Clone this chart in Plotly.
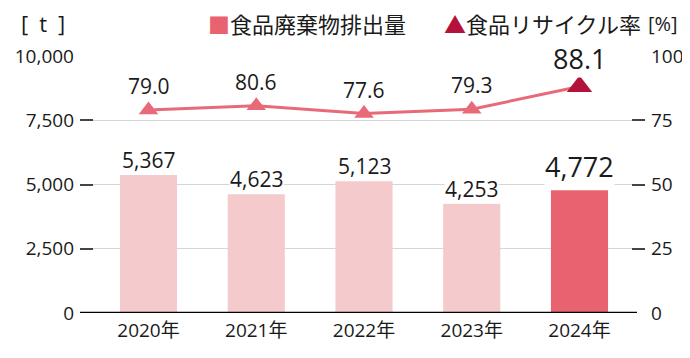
import plotly.graph_objects as go

years = ["2020年", "2021年", "2022年", "2023年", "2024年"]
waste_t = [5367, 4623, 5123, 4253, 4772]
waste_labels = ["5,367", "4,623", "5,123", "4,253", "4,772"]
recycle_pct = [79.0, 80.6, 77.6, 79.3, 88.1]
recycle_labels = ["79.0", "80.6", "77.6", "79.3", "88.1"]
left_ticks = [0, 2500, 5000, 7500, 10000]
left_ticktext = ["0", "2,500", "5,000", "7,500", "10,000"]
right_ticks = [0, 25, 50, 75, 100]
right_ticktext = ["0", "25", "50", "75", "100"]

FONT = "Open Sans, Noto Sans CJK JP, sans-serif"
JFONT = "Noto Sans CJK JP, Open Sans, sans-serif"
LIGHT = "#f4cacc"
DARK = "#e8636f"
LINE = "#e86a78"
TRI_DARK = "#b3123b"
TXT = "#1a1a1a"

bar_colors = [LIGHT] * (len(years) - 1) + [DARK]
mk_colors = [LINE] * (len(years) - 1) + [TRI_DARK]
mk_sizes = [17] * (len(years) - 1) + [22]

# body margin of the html page is 8px; build the figure in page coords minus 8
OFF = 8
W, H = 690 - OFF, 358 - OFF
PLOT_L, PLOT_R, PLOT_T, PLOT_B = 80 - OFF, 645 - OFF, 56 - OFF, 313 - OFF
L, R, T, B = PLOT_L, W - PLOT_R, PLOT_T, H - PLOT_B
PW = PLOT_R - PLOT_L
PH = PLOT_B - PLOT_T


def px(xpix):
    return (xpix - OFF - PLOT_L) / PW


def py(ypix):
    return (PLOT_B - (ypix - OFF)) / PH


unit = (579.5 - 148.5) / 4
x_lo = (80 - 148.5) / unit
x_hi = 4 + (645 - 579.5) / unit

fig = go.Figure()
fig.add_trace(go.Bar(
    x=years, y=waste_t, marker=dict(color=bar_colors, line=dict(width=0)),
    width=0.53, showlegend=False, hoverinfo="skip", yaxis="y"))
fig.add_trace(go.Scatter(
    x=years, y=recycle_pct, mode="lines+markers", yaxis="y2",
    line=dict(color=LINE, width=3),
    marker=dict(symbol="triangle-up", size=mk_sizes, color=mk_colors,
                opacity=1, line=dict(width=0)),
    showlegend=False, hoverinfo="skip", cliponaxis=False))

annotations = []
n = len(years)
for i, (x, v, t) in enumerate(zip(years, waste_t, waste_labels)):
    big = i == n - 1
    annotations.append(dict(
        x=x, y=v, xref="x", yref="y", text=t, showarrow=False,
        yanchor="bottom", yshift=4 if big else 0, bgcolor="white", borderpad=0,
        font=dict(family=FONT, size=27 if big else 21, color=TXT)))
for i, (x, v, t) in enumerate(zip(years, recycle_pct, recycle_labels)):
    big = i == n - 1
    annotations.append(dict(
        x=x, y=v, xref="x", yref="y2", text=t, showarrow=False,
        yanchor="bottom", yshift=9 if big else 9, bgcolor="white", borderpad=0,
        font=dict(family=FONT, size=27 if big else 21, color=TXT)))

annotations += [
    dict(x=px(19), y=py(23), xref="paper", yref="paper", xanchor="left", yanchor="middle",
         text="[\u2002t\u2002]", showarrow=False, font=dict(family=FONT, size=22, color=TXT)),
    dict(x=px(646), y=py(23), xref="paper", yref="paper", xanchor="left", yanchor="middle",
         text="[%]", showarrow=False, font=dict(family=FONT, size=20, color=TXT)),
    dict(x=px(206), y=py(23), xref="paper", yref="paper", xanchor="left", yanchor="middle",
         text=f"<span style='color:{DARK}'>■</span>食品廃棄物排出量", showarrow=False,
         font=dict(family=JFONT, size=22, color=TXT)),
    dict(x=px(442), y=py(23), xref="paper", yref="paper", xanchor="left", yanchor="middle",
         text=f"<span style='color:{TRI_DARK}'>▲</span>食品リサイクル率", showarrow=False,
         font=dict(family=JFONT, size=22, color=TXT)),
]

fig.update_layout(
    template="none",
    width=W, height=H, margin=dict(l=L, r=R, t=T, b=B, autoexpand=False),
    paper_bgcolor="white", plot_bgcolor="white",
    annotations=annotations,
    xaxis=dict(type="category", range=[x_lo, x_hi], automargin=False,
               showgrid=False, zeroline=False, showline=False, ticks="",
               ticklabelstandoff=4,
               tickfont=dict(family=FONT, size=19, color=TXT), fixedrange=True),
    yaxis=dict(range=[0, 10000], tickvals=left_ticks, ticktext=left_ticktext,
               automargin=False,
               showgrid=True, gridcolor="#d6d6d6", gridwidth=1, zeroline=False,
               ticks="inside", ticklen=13, tickcolor="#444", tickwidth=1.5,
               ticklabelstandoff=5,
               tickfont=dict(family=FONT, size=19, color=TXT), showline=False),
    yaxis2=dict(range=[0, 100], tickvals=right_ticks, ticktext=right_ticktext,
                automargin=False,
                overlaying="y", side="right", showgrid=False, zeroline=False,
                ticks="inside", ticklen=13, tickcolor="#444", tickwidth=1.5,
                ticklabelstandoff=5,
                tickfont=dict(family=FONT, size=19, color=TXT), showline=False),
    shapes=[dict(type="line", xref="paper", yref="y", x0=0, x1=px(637), y0=0, y1=0,
                 line=dict(color="black", width=2.5), layer="above")],
)

fig.write_html("out.html")
